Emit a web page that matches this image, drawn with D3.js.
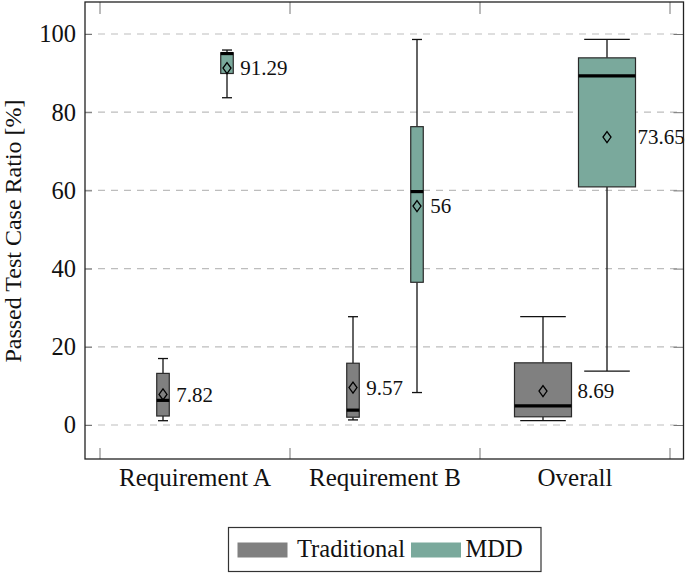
<!DOCTYPE html>
<html>
<head>
<meta charset="utf-8">
<script src="https://cdn.jsdelivr.net/npm/d3@7"></script>
<style>
  html, body { margin: 0; padding: 0; background: #fff; }
  svg { display: block; font-family: "Liberation Serif", "Times New Roman", "DejaVu Serif", serif; }
</style>
</head>
<body>
<svg id="chart" width="685" height="574"></svg>
<script>
// ---- data ----
const categories = ["Requirement A", "Requirement B", "Overall"];
const series = ["Traditional", "MDD"];
const yTicks = [0, 20, 40, 60, 80, 100];

const tradMin    = [1.1, 1.3, 1.1];
const tradQ1     = [2.3, 2.0, 2.1];
const tradMedian = [6.3, 3.8, 4.9];
const tradQ3     = [13.2, 15.8, 15.9];
const tradMax    = [17.0, 27.7, 27.7];
const tradMean   = [7.82, 9.57, 8.69];

const mddMin    = [83.7, 8.3, 13.8];
const mddQ1     = [89.9, 36.5, 60.9];
const mddMedian = [95.0, 59.7, 89.3];
const mddQ3     = [95.2, 76.3, 93.9];
const mddMax    = [95.9, 98.6, 98.6];
const mddMean   = [91.29, 56, 73.65];

// ---- layout / style ----
const FONT = "'Liberation Serif', 'Times New Roman', 'DejaVu Serif', serif";
const colors = { "Traditional": "#808080", "MDD": "#7aa99c" };
const frame = { left: 85, right: 683.5, top: 2, bottom: 459 };

const svg = d3.select("#chart");

const y = d3.scaleLinear().domain([0, 100]).range([425, 34]);
const x = d3.scaleBand().domain(categories).range([100, 670]).padding(0);
const off = d3.scalePoint().domain(series).range([-32, 32]);
// narrow boxes for the requirement groups, wide boxes for overall
const boxW = c => (c === "Overall" ? 0.30 : 0.066) * x.bandwidth();
const labelGap = (c, s) => (c === "Overall" ? (s === "MDD" ? 2 : 6) : 7);

// grid lines
svg.append("g").selectAll("line").data(yTicks).join("line")
  .attr("x1", frame.left).attr("x2", frame.right)
  .attr("y1", d => y(d)).attr("y2", d => y(d))
  .attr("stroke", "#bdbdbd").attr("stroke-width", 1.2)
  .attr("stroke-dasharray", "7,6");

// y axis (left) with inward ticks
const yAxisL = svg.append("g").attr("transform", `translate(${frame.left},0)`)
  .call(d3.axisLeft(y).tickValues(yTicks).tickSize(-7).tickPadding(9));
yAxisL.attr("font-family", FONT);
yAxisL.select(".domain").remove();
yAxisL.selectAll(".tick line").attr("stroke", "#777");
yAxisL.selectAll(".tick text").attr("font-size", 24.5).attr("fill", "#111")
  .attr("font-family", FONT);

// y axis (right) ticks
const yAxisR = svg.append("g").attr("transform", `translate(${frame.right},0)`)
  .call(d3.axisRight(y).tickValues(yTicks).tickSize(-10).tickFormat(""));
yAxisR.select(".domain").remove();
yAxisR.selectAll(".tick line").attr("stroke", "#777");

// x axis labels
const xAxis = svg.append("g").attr("transform", `translate(0,${frame.bottom})`)
  .call(d3.axisBottom(x).tickSize(0).tickPadding(0));
xAxis.attr("font-family", FONT);
xAxis.select(".domain").remove();
xAxis.selectAll(".tick text").attr("font-size", 25).attr("fill", "#111")
  .attr("dy", "27px")
  .attr("font-family", FONT);

// x boundary ticks (top and bottom)
const bounds = categories.map(c => x(c)).concat([x(categories[categories.length - 1]) + x.bandwidth()]);
const xt = svg.append("g");
xt.selectAll("line.b").data(bounds).join("line").attr("class", "b")
  .attr("x1", d => d).attr("x2", d => d)
  .attr("y1", frame.bottom).attr("y2", frame.bottom - 11)
  .attr("stroke", "#777");
xt.selectAll("line.t").data(bounds).join("line").attr("class", "t")
  .attr("x1", d => d).attr("x2", d => d)
  .attr("y1", frame.top).attr("y2", frame.top + 12)
  .attr("stroke", "#777");

// boxes
const boxes = [];
categories.forEach((c, i) => {
  boxes.push({ cat: c, s: "Traditional", min: tradMin[i], q1: tradQ1[i], med: tradMedian[i], q3: tradQ3[i], max: tradMax[i], mean: tradMean[i] });
  boxes.push({ cat: c, s: "MDD", min: mddMin[i], q1: mddQ1[i], med: mddMedian[i], q3: mddQ3[i], max: mddMax[i], mean: mddMean[i] });
});

const g = svg.append("g");
boxes.forEach(b => {
  const cx = x(b.cat) + x.bandwidth() / 2 + off(b.s);
  const w = boxW(b.cat);
  const cw = w * 0.8;
  const gg = g.append("g");
  // whiskers
  gg.append("line").attr("x1", cx).attr("x2", cx).attr("y1", y(b.q3)).attr("y2", y(b.max))
    .attr("stroke", "#111").attr("stroke-width", 1.3);
  gg.append("line").attr("x1", cx).attr("x2", cx).attr("y1", y(b.q1)).attr("y2", y(b.min))
    .attr("stroke", "#111").attr("stroke-width", 1.3);
  gg.append("line").attr("x1", cx - cw / 2).attr("x2", cx + cw / 2).attr("y1", y(b.max)).attr("y2", y(b.max))
    .attr("stroke", "#111").attr("stroke-width", 1.3);
  gg.append("line").attr("x1", cx - cw / 2).attr("x2", cx + cw / 2).attr("y1", y(b.min)).attr("y2", y(b.min))
    .attr("stroke", "#111").attr("stroke-width", 1.3);
  // box
  gg.append("rect").attr("x", cx - w / 2).attr("width", w)
    .attr("y", y(b.q3)).attr("height", y(b.q1) - y(b.q3))
    .attr("fill", colors[b.s]).attr("stroke", "#2a2a2a").attr("stroke-width", 1.2);
  // median
  gg.append("line").attr("x1", cx - w / 2).attr("x2", cx + w / 2).attr("y1", y(b.med)).attr("y2", y(b.med))
    .attr("stroke", "#000").attr("stroke-width", 3.2);
  // mean diamond
  const my = y(b.mean);
  gg.append("path")
    .attr("d", `M${cx},${my - 5.5}L${cx + 4},${my}L${cx},${my + 5.5}L${cx - 4},${my}Z`)
    .attr("fill", "none").attr("stroke", "#000").attr("stroke-width", 1.3);
  // mean label
  gg.append("text").attr("x", cx + w / 2 + labelGap(b.cat, b.s)).attr("y", my).attr("dy", "0.35em")
    .attr("font-size", 21).attr("fill", "#111").attr("font-family", FONT)
    .text(d3.format("")(b.mean));
});

// frame
svg.append("rect").attr("x", frame.left).attr("y", frame.top)
  .attr("width", frame.right - frame.left).attr("height", frame.bottom - frame.top)
  .attr("fill", "none").attr("stroke", "#222").attr("stroke-width", 1.3);

// y-axis title
svg.append("text")
  .attr("transform", `translate(21,${(95 + 367) / 2}) rotate(-90)`)
  .attr("text-anchor", "middle").attr("font-size", 24).attr("fill", "#111")
  .attr("font-family", FONT)
  .text("Passed Test Case Ratio [%]");

// legend
const lg = svg.append("g");
lg.append("rect").attr("x", 228.5).attr("y", 527.5).attr("width", 312.5).attr("height", 44)
  .attr("fill", "#fff").attr("stroke", "#333").attr("stroke-width", 1.2);
const legendItems = [
  { s: "Traditional", sx: 237.5, tx: 297 },
  { s: "MDD", sx: 411, tx: 465.5 }
];
legendItems.forEach(it => {
  lg.append("rect").attr("x", it.sx).attr("y", 542.5).attr("width", 50).attr("height", 15)
    .attr("fill", colors[it.s]);
  lg.append("text").attr("x", it.tx).attr("y", 557).attr("font-size", 24.5).attr("fill", "#111")
    .attr("font-family", FONT)
    .text(it.s);
});
</script>
</body>
</html>
